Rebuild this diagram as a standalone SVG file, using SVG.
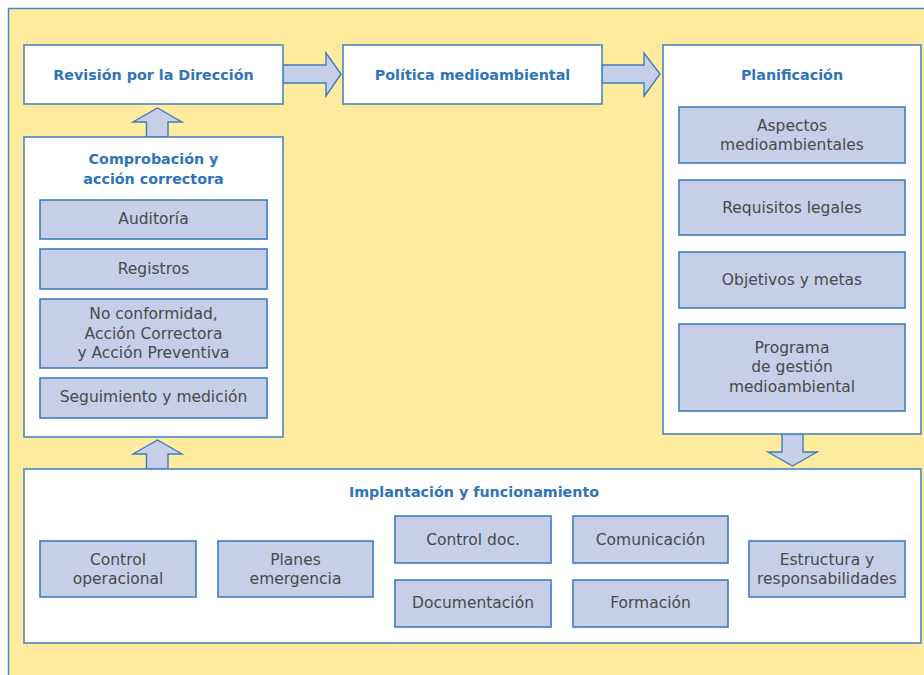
<svg xmlns="http://www.w3.org/2000/svg" width="924" height="675" viewBox="0 0 924 675">
<defs>
<style>
.frame{fill:#FEEB9E;stroke:#4A86C2;stroke-width:1.5}
.box{fill:#FFFFFF;stroke:#4A86C2;stroke-width:1.6}
.sub{fill:#C6CFE7;stroke:#3D7DBD;stroke-width:1.6}
.arr{fill:#C6CFE7;stroke:#3D7DBD;stroke-width:1.4;stroke-linejoin:miter}
.title{font-family:"DejaVu Sans","Liberation Sans",sans-serif;font-weight:bold;font-size:14.3px;fill:#2F74B8;text-anchor:middle}
.txt{font-family:"DejaVu Sans","Liberation Sans",sans-serif;font-size:15.5px;fill:#4A4A4A;text-anchor:middle}
</style>
</defs>
<rect x="0" y="0" width="924" height="675" fill="#FFFFFF"/>
<rect class="frame" x="8.5" y="8.5" width="930" height="680"/>

<g id="connectors">
<path class="arr" d="M283,65 H326 V53 L341,74 L326,96 V83 H283 Z"/>
<path class="arr" d="M602,65 H644 V53 L660,74 L644,96 V83 H602 Z"/>
<path class="arr" d="M146.5,137 V122 H133 L157.5,108 L182,122 H168 V137 Z"/>
<path class="arr" d="M146.5,469 V454 H133 L157.5,440 L182,454 H168 V469 Z"/>
<path class="arr" d="M782,434 V452 H768 L792.5,466 L817,452 H803 V434 Z"/>
</g>

<g id="revision">
<rect class="box" x="24" y="45" width="259" height="59"/>
<text class="title" x="153.5" y="80">Revisión por la Dirección</text>
</g>

<g id="politica">
<rect class="box" x="343" y="45" width="259" height="59"/>
<text class="title" x="472.5" y="80">Política medioambiental</text>
</g>

<g id="planificacion">
<rect class="box" x="663" y="45" width="258" height="389"/>
<text class="title" x="792" y="80">Planificación</text>
</g>
<g id="aspectos">
<rect class="sub" x="679" y="107" width="226" height="56"/>
<text class="txt" x="792" y="131">Aspectos</text>
<text class="txt" x="792" y="150">medioambientales</text>
</g>
<g id="requisitos">
<rect class="sub" x="679" y="180" width="226" height="55"/>
<text class="txt" x="792" y="213">Requisitos legales</text>
</g>
<g id="objetivos">
<rect class="sub" x="679" y="252" width="226" height="56"/>
<text class="txt" x="792" y="285">Objetivos y metas</text>
</g>
<g id="programa">
<rect class="sub" x="679" y="324" width="226" height="87"/>
<text class="txt" x="792" y="353">Programa</text>
<text class="txt" x="792" y="372">de gestión</text>
<text class="txt" x="792" y="392">medioambiental</text>
</g>

<g id="comprobacion">
<rect class="box" x="24" y="137" width="259" height="300"/>
<text class="title" x="153.5" y="164">Comprobación y</text>
<text class="title" x="153.5" y="184">acción correctora</text>
</g>
<g id="auditoria">
<rect class="sub" x="40" y="200" width="227" height="39"/>
<text class="txt" x="153.5" y="224">Auditoría</text>
</g>
<g id="registros">
<rect class="sub" x="40" y="249" width="227" height="40"/>
<text class="txt" x="153.5" y="274">Registros</text>
</g>
<g id="noconformidad">
<rect class="sub" x="40" y="299" width="227" height="69"/>
<text class="txt" x="153.5" y="319">No conformidad,</text>
<text class="txt" x="153.5" y="339">Acción Correctora</text>
<text class="txt" x="153.5" y="358">y Acción Preventiva</text>
</g>
<g id="seguimiento">
<rect class="sub" x="40" y="378" width="227" height="40"/>
<text class="txt" x="153.5" y="402">Seguimiento y medición</text>
</g>

<g id="implantacion">
<rect class="box" x="24" y="469" width="897" height="174"/>
<text class="title" x="474" y="497">Implantación y funcionamiento</text>
</g>
<g id="controlop">
<rect class="sub" x="40" y="541" width="156" height="56"/>
<text class="txt" x="118" y="565">Control</text>
<text class="txt" x="118" y="584">operacional</text>
</g>
<g id="planes">
<rect class="sub" x="218" y="541" width="155" height="56"/>
<text class="txt" x="295.5" y="565">Planes</text>
<text class="txt" x="295.5" y="584">emergencia</text>
</g>
<g id="controldoc">
<rect class="sub" x="395" y="516" width="156" height="47"/>
<text class="txt" x="473" y="545">Control doc.</text>
</g>
<g id="documentacion">
<rect class="sub" x="395" y="580" width="156" height="47"/>
<text class="txt" x="473" y="608">Documentación</text>
</g>
<g id="comunicacion">
<rect class="sub" x="573" y="516" width="155" height="47"/>
<text class="txt" x="650.5" y="545">Comunicación</text>
</g>
<g id="formacion">
<rect class="sub" x="573" y="580" width="155" height="47"/>
<text class="txt" x="650.5" y="608">Formación</text>
</g>
<g id="estructura">
<rect class="sub" x="749" y="541" width="156" height="56"/>
<text class="txt" x="827" y="565">Estructura y</text>
<text class="txt" x="827" y="584">responsabilidades</text>
</g>
</svg>
